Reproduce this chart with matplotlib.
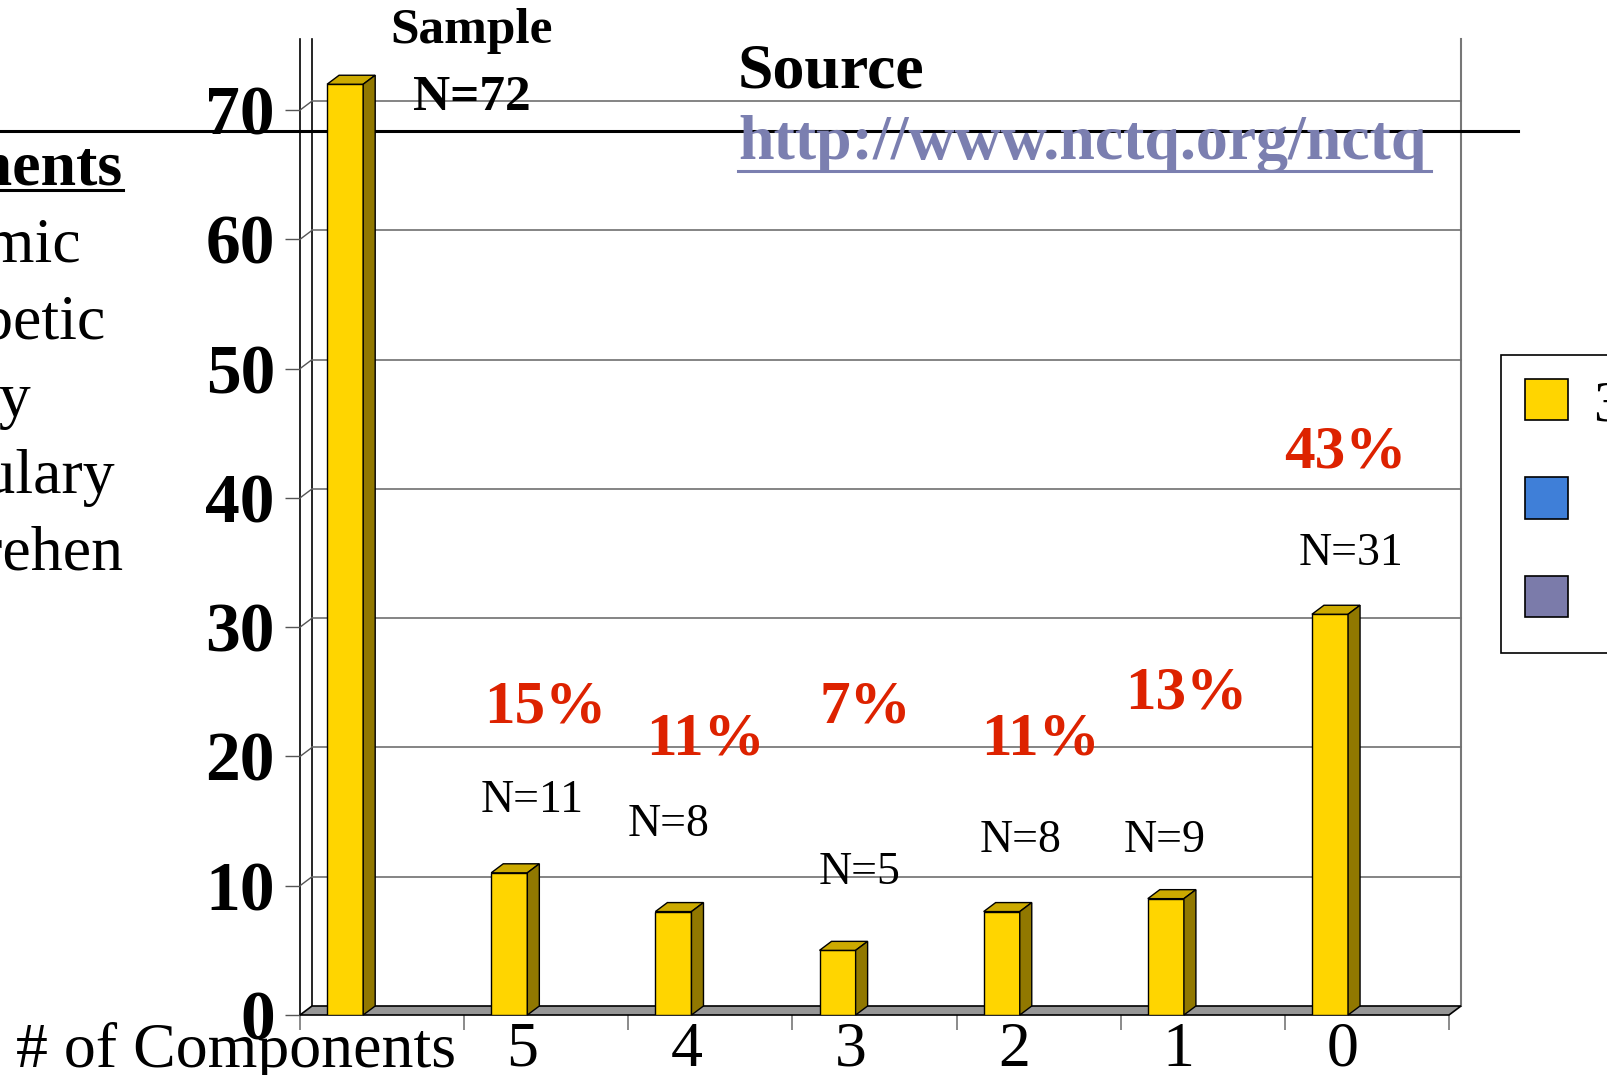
import matplotlib.pyplot as plt
from matplotlib.patches import Polygon, Patch
from matplotlib.lines import Line2D
from matplotlib.transforms import Bbox, TransformedBbox

plt.rcParams['font.family'] = ['Liberation Serif', 'DejaVu Serif']

# number of reading components covered -> number of teacher-prep programs
categories = ['# of Components', '5', '4', '3', '2', '1', '0']
programs = [72, 11, 8, 5, 8, 9, 31]
sample_total = programs[0]

legend_labels = ['3', '', '']
legend_colors = ['#FFD500', '#3F7FD8', '#7B7BAA']

components = ['Phonemic', 'Alphabetic', 'Fluency', 'Vocabulary', 'Comprehension']

# where the annotation boxes sit (data coords)
n_label_pos = [(1.415, 16.6), (2.245, 14.7), (3.412, 11.0),
               (4.387, 13.5), (5.267, 13.5), (6.400, 35.7)]
pct_label_pos = [(1.497, 23.8), (2.470, 21.3), (3.442, 23.8),
                 (4.514, 21.3), (5.401, 24.9), (6.370, 43.5)]

W, H = 1608, 1075
fig = plt.figure(figsize=(W / 100, H / 100), dpi=100)

x0_px, x1_px, y0_px, ytop_px = 300, 1449, 1015, 39
n = len(categories)
ymax = 75.5
ax = fig.add_axes([x0_px / W, 1 - y0_px / H, (x1_px - x0_px) / W, (y0_px - ytop_px) / H])
ax.set_xlim(0, n)
ax.set_ylim(0, ymax)
ax.patch.set_visible(False)
for s in ax.spines.values():
    s.set_visible(False)

px_x = n / (x1_px - x0_px)
px_y = ymax / (y0_px - ytop_px)
dx, dy = 12 * px_x, 9 * px_y

# walls
ax.plot([0, 0], [0, ymax], color='black', lw=1.2, clip_on=False, zorder=1)
ax.plot([dx, dx], [dy, ymax], color='black', lw=1.2, clip_on=False, zorder=1)
ax.plot([n + dx, n + dx], [dy, ymax], color='#777777', lw=1.5, clip_on=False, zorder=1)
yticks = list(range(0, 80, 10))
for v in yticks[1:]:
    ax.plot([dx, n + dx], [v + dy, v + dy], color='#707070', lw=1.2, zorder=1, clip_on=False)
    ax.plot([0, dx], [v, v + dy], color='#555555', lw=1, zorder=1)
ax.add_patch(Polygon([(0, 0), (n, 0), (n + dx, dy), (dx, dy)], closed=True,
                     fc='#969696', ec='black', lw=1.2, zorder=2, clip_on=False))

# horizontal rule of the slide, runs behind the bars
ax.plot([0, 1518 / W], [1 - 131 / H] * 2, transform=fig.transFigure,
        color='black', lw=2.2, zorder=2.5, clip_on=False)

# bars with top and side faces
xs = [i + 0.165 for i in range(n)]
bars = ax.bar(xs, programs, width=0.22, align='edge', color='#FFD500',
              edgecolor='black', lw=1, zorder=4)
for b in bars:
    x, w, h = b.get_x(), b.get_width(), b.get_height()
    ax.add_patch(Polygon([(x, h), (x + w, h), (x + w + dx, h + dy), (x + dx, h + dy)],
                         fc='#CCAA00', ec='black', lw=1, zorder=4, clip_on=False))
    ax.add_patch(Polygon([(x + w, 0), (x + w + dx, dy), (x + w + dx, h + dy), (x + w, h)],
                         fc='#917800', ec='black', lw=1, zorder=4, clip_on=False))

# axes ticks
ax.set_yticks(yticks)
ax.set_yticklabels([str(v) for v in yticks], fontsize=50, fontweight='bold')
ax.tick_params(axis='y', length=15 * 0.72, width=1, color='#555555', pad=10 * 0.72)
ax.set_xticks(range(n + 1))
ax.set_xticklabels([])
ax.tick_params(axis='x', which='major', length=15 * 0.72, width=1.2, color='#777777')
ax.set_xticks([i + 0.5 - 24 * px_x for i in range(1, n)], minor=True)
ax.set_xticklabels(categories[1:], minor=True, fontsize=46)
ax.tick_params(axis='x', which='minor', length=0, pad=7 * 0.72)
ax.text((456 - x0_px) * px_x, -7 * px_y, categories[0], ha='right', va='top', fontsize=46)

# annotations
for (x, y), v in zip(n_label_pos, programs[1:]):
    ax.text(x, y, f'N={v}', ha='center', va='center', fontsize=33, zorder=6)
for (x, y), v in zip(pct_label_pos, programs[1:]):
    pct = int(100 * v / sample_total + 0.5)
    ax.text(x, y, f'{pct}%', ha='center', va='center', fontsize=44,
            fontweight='bold', color='#DD2200', zorder=6)
ax.text(1.046, (y0_px - 43) * px_y, 'Sample', ha='center', va='baseline',
        fontsize=37, fontweight='bold', zorder=6)
ax.text(1.046, (y0_px - 110) * px_y, f'N={sample_total}', ha='center', va='baseline',
        fontsize=37, fontweight='bold', zorder=6)

# source
fig.text(738 / W, 1 - 88 / H, 'Source', fontsize=46, fontweight='bold', va='baseline')
url_color = '#7B7FB0'
fig.text(738 / W, 1 - 159 / H, 'http://www.nctq.org/nctq', fontsize=46,
         fontweight='bold', va='baseline', color=url_color)
fig.add_artist(Line2D([738 / W, 1431 / W], [1 - 171 / H] * 2, color=url_color,
                      lw=2.2, transform=fig.transFigure))

# component list on the left
fig.text(123 / W, 1 - 185 / H, 'Components', ha='right', va='baseline',
         fontsize=46, fontweight='bold')
fig.add_artist(Line2D([0, 123 / W], [1 - 190 / H] * 2, color='black',
                      lw=2.2, transform=fig.transFigure))
clip = TransformedBbox(Bbox([[0, 0], [125 / W, 1]]), fig.transFigure)
for k, word in enumerate(components):
    t = fig.text(-175 / W, 1 - (262 + 77 * k) / H, word, ha='left', va='baseline', fontsize=46)
    t.set_clip_box(clip)
    t.set_clip_on(True)

# legend
handles = [Patch(fc=c, ec='black', lw=1.2) for c in legend_colors]
leg = fig.legend(handles, legend_labels, loc='upper left',
                 bbox_to_anchor=(1501 / W, 1 - 355 / H), borderaxespad=0,
                 frameon=True, fancybox=False, edgecolor='black', framealpha=1,
                 fontsize=42, handlelength=0.74, handleheight=0.711,
                 handletextpad=0.43, borderpad=0.414, labelspacing=0.776)
leg.get_frame().set_linewidth(1.2)

fig.savefig('out.png', dpi=100)
